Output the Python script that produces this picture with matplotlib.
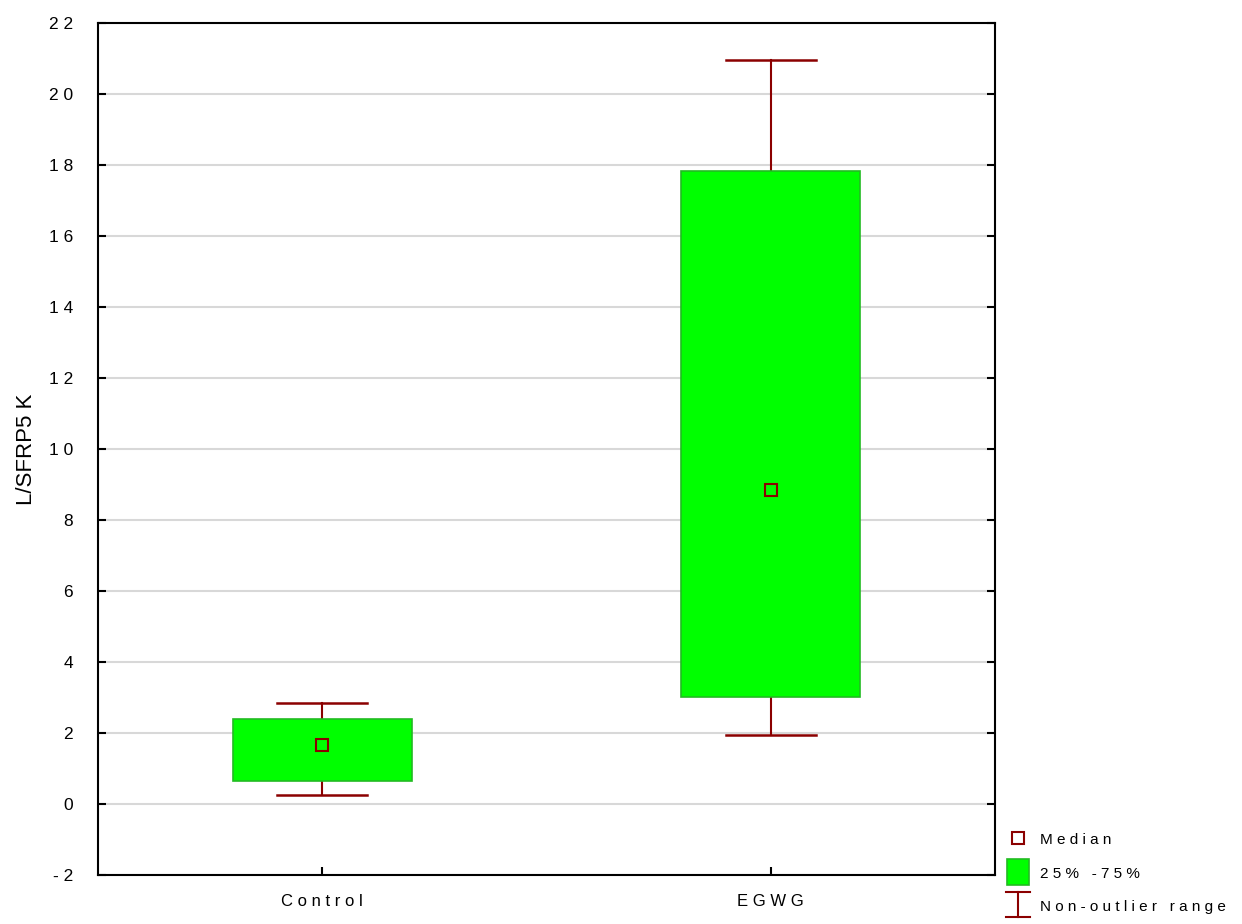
import matplotlib.pyplot as plt
import matplotlib.patches as mpatches
from matplotlib.lines import Line2D

# Box plot data
groups = ['Control', 'EGWG']
medians = [1.66, 8.85]
q25 = [0.65, 3.01]
q75 = [2.39, 17.83]
whisk_lo = [0.25, 1.94]
whisk_hi = [2.85, 20.96]
yticks = list(range(-2, 23, 2))
ylabel = 'L/SFRP5 K'
legend_labels = ['Median', '25% -75%', 'Non-outlier range']

box_col = '#00ff00'
box_edge = '#22bb22'
whisk_col = '#8b0000'
fnt = 'Liberation Sans'


def spaced(s):
    return ' '.join(s)


fig = plt.figure(figsize=(12.42, 9.24), dpi=100)
ax = fig.add_axes([98 / 1242, 1 - 875 / 924, (995 - 98) / 1242, (875 - 23) / 924])

for i, g in enumerate(groups):
    # whiskers
    ax.plot([i, i], [whisk_lo[i], q25[i]], color=whisk_col, lw=1.5, zorder=2)
    ax.plot([i, i], [q75[i], whisk_hi[i]], color=whisk_col, lw=1.5, zorder=2)
    ax.plot([i - 0.1, i + 0.1], [whisk_lo[i]] * 2, color=whisk_col, lw=1.8, zorder=2)
    ax.plot([i - 0.1, i + 0.1], [whisk_hi[i]] * 2, color=whisk_col, lw=1.8, zorder=2)
    # box
    ax.add_patch(mpatches.Rectangle((i - 0.2, q25[i]), 0.4, q75[i] - q25[i],
                                    facecolor=box_col, edgecolor=box_edge, lw=1.2, zorder=3))
    # median
    ax.plot(i, medians[i], marker='s', ms=8, mfc='none', mec=whisk_col, mew=1.5, zorder=4)

ax.set_xlim(-0.5, 1.5)
ax.set_ylim(-2, 22)
ax.set_yticks(yticks)
ax.set_yticklabels([spaced(str(t)) for t in yticks], fontfamily=fnt, fontsize=12.5)
ax.set_xticks(range(len(groups)))
ax.set_xticklabels([spaced(g) for g in groups], fontfamily=fnt, fontsize=12)
ax.tick_params(axis='y', direction='in', length=6, width=1.5, right=True, pad=18)
ax.tick_params(axis='x', direction='in', length=6, width=1.5, pad=14)
ax.yaxis.grid(True, color='#d8d8d8', lw=1.5, zorder=0)
ax.set_axisbelow(True)
for sp in ax.spines.values():
    sp.set_linewidth(1.5)
ax.set_ylabel(ylabel, fontfamily=fnt, fontsize=16)
ax.yaxis.set_label_coords(-0.068, 0.5)

# legend drawn in figure pixels
W, H = 1242, 924
fig.add_artist(Line2D([1018 / W], [1 - 838 / H], marker='s', ms=8, mfc='none',
                      mec=whisk_col, mew=1.5, transform=fig.transFigure))
fig.add_artist(mpatches.Rectangle((1007 / W, 1 - 885 / H), 22 / W, 26 / H,
                                  facecolor=box_col, edgecolor=box_edge, lw=1.2,
                                  transform=fig.transFigure))
fig.add_artist(Line2D([1018 / W, 1018 / W], [1 - 892 / H, 1 - 917 / H], color=whisk_col,
                      lw=1.5, transform=fig.transFigure))
for yy in (892, 917):
    fig.add_artist(Line2D([1006 / W, 1030 / W], [1 - yy / H] * 2, color=whisk_col,
                          lw=1.5, transform=fig.transFigure))
for lab, yy in zip(legend_labels, (840, 874, 907)):
    fig.text(1040 / W, 1 - yy / H, spaced(lab), fontfamily=fnt, fontsize=11,
             va='center', ha='left')

fig.savefig('out.png', dpi=100)
